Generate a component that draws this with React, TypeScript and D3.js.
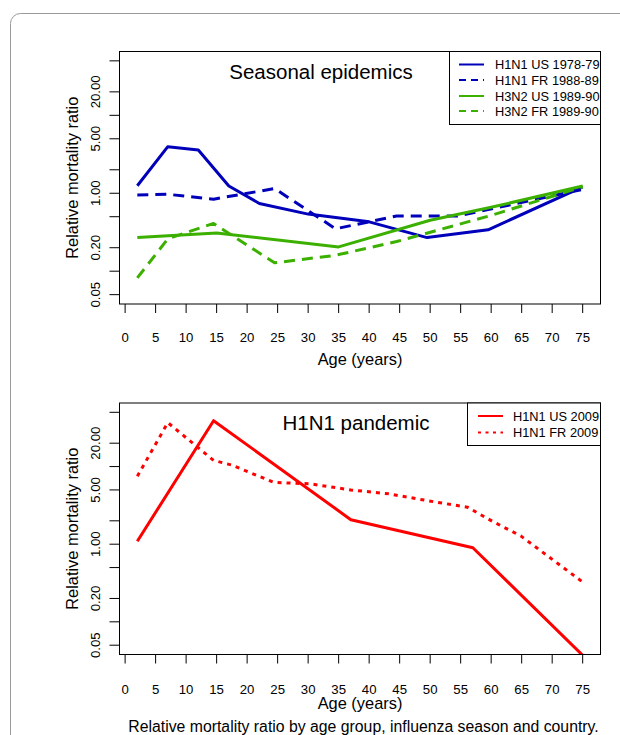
import React from 'react';
import * as d3 from 'd3';

// ---------- data ----------
const xTicks = d3.range(0, 80, 5);
const yTicks = [0.05, 0.1, 0.2, 0.5, 1, 2, 5, 10, 20, 50];
const yTickLabels = ['0.05', '', '0.20', '', '1.00', '', '5.00', '', '20.00', ''];

const h1n1Us7879Age = [2, 7, 12, 17, 22, 30, 40, 49.5, 59.5, 75];
const h1n1Us7879Val = [1.25, 3.96, 3.59, 1.24, 0.74, 0.54, 0.43, 0.27, 0.34, 1.21];

const h1n1Fr8889Age = [2, 7, 14.5, 24.5, 34.5, 44.5, 54.5, 75];
const h1n1Fr8889Val = [0.95, 0.97, 0.84, 1.15, 0.35, 0.51, 0.51, 1.12];

const h3n2Us8990Age = [2, 15, 35, 50, 60, 75];
const h3n2Us8990Val = [0.27, 0.31, 0.205, 0.45, 0.66, 1.24];

const h3n2Fr8990Age = [2, 7, 14.5, 24.5, 34.5, 44.5, 60, 75];
const h3n2Fr8990Val = [0.082, 0.26, 0.41, 0.128, 0.16, 0.24, 0.52, 1.21];

const h1n1Us2009Age = [2, 14.5, 37, 57, 75];
const h1n1Us2009Val = [1.09, 39, 2.07, 0.9, 0.037];

const h1n1Fr2009Age = [2, 7, 14.5, 17.4, 24.4, 30.3, 37, 43.2, 50.8, 56.1, 60.2, 64.9, 75];
const h1n1Fr2009Val = [7.5, 36.8, 12, 10.5, 6.25, 6.0, 5.0, 4.45, 3.5, 3.0, 1.97, 1.27, 0.325];

const seasonalNames = ['H1N1 US 1978-79', 'H1N1 FR 1988-89', 'H3N2 US 1989-90', 'H3N2 FR 1989-90'];
const pandemicNames = ['H1N1 US 2009', 'H1N1 FR 2009'];

const BLUE = '#0000bb';
const GREEN = '#3cb000';
const RED = '#ff0000';
const FONT = '"Liberation Sans", Arial, Helvetica, sans-serif';

type Series = { age: number[]; val: number[]; color: string; dash: string; legendDash: string };

const x = d3.scaleLinear().domain([2 - 73 * 0.04, 75 + 73 * 0.04]).range([119.5, 600.5]);

function Panel(props: {
  top: number;
  bottom: number;
  id: string;
  series: Series[];
  title: string;
  titleX: number;
  titleY: number;
  legend: { names: string[]; left: number; bottom: number; lineX0: number; lineX1: number; textX: number; rows: number[] };
  tickLabelY: number;
  axisTitleY: number;
}) {
  const { top, bottom, id, series, legend } = props;
  const y = d3.scaleLog().domain([0.05 / 1.318, 50 * 1.318]).range([bottom, top]);
  const line = d3
    .line<[number, number]>()
    .x((d) => x(d[0]))
    .y((d) => y(d[1]));
  const left = 119.5;
  const right = 600.5;
  return (
    <g>
      <defs>
        <clipPath id={id}>
          <rect x={left} y={top} width={right - left} height={bottom - top} />
        </clipPath>
      </defs>
      <g clipPath={`url(#${id})`}>
        {series.map((s, i) => (
          <path
            key={i}
            d={line(s.age.map((a, j) => [a, s.val[j]] as [number, number])) || ''}
            fill="none"
            stroke={s.color}
            strokeWidth={3}
            strokeDasharray={s.dash}
            strokeLinejoin="round"
          />
        ))}
      </g>
      <rect x={left} y={top} width={right - left} height={bottom - top} fill="none" stroke="#000" strokeWidth={1} />
      {xTicks.map((t) => (
        <g key={t}>
          <line x1={x(t)} x2={x(t)} y1={bottom} y2={bottom + 9} stroke="#000" />
          <text x={x(t)} y={props.tickLabelY} textAnchor="middle" fontSize={13.2} fontFamily={FONT}>
            {t}
          </text>
        </g>
      ))}
      {yTicks.map((t, i) => (
        <g key={t}>
          <line x1={left - 10} x2={left} y1={y(t)} y2={y(t)} stroke="#000" />
          {yTickLabels[i] && (
            <text
              transform={`translate(99.5,${y(t)}) rotate(-90)`}
              textAnchor="middle"
              fontSize={13.2}
              fontFamily={FONT}
            >
              {yTickLabels[i]}
            </text>
          )}
        </g>
      ))}
      <text x={(left + right) / 2} y={props.axisTitleY} textAnchor="middle" fontSize={16.4} fontFamily={FONT}>
        Age (years)
      </text>
      <text
        transform={`translate(78,${(top + bottom) / 2}) rotate(-90)`}
        textAnchor="middle"
        fontSize={16.4}
        fontFamily={FONT}
      >
        Relative mortality ratio
      </text>
      <text x={props.titleX} y={props.titleY} textAnchor="middle" fontSize={20.5} fontFamily={FONT}>
        {props.title}
      </text>
      <rect
        x={legend.left}
        y={top}
        width={right - legend.left}
        height={legend.bottom - top}
        fill="#fff"
        stroke="#000"
        strokeWidth={1}
      />
      {legend.names.map((n, i) => (
        <g key={n}>
          <line
            x1={legend.lineX0}
            x2={legend.lineX1}
            y1={legend.rows[i]}
            y2={legend.rows[i]}
            stroke={series[i].color}
            strokeWidth={2}
            strokeDasharray={series[i].legendDash}
          />
          <text x={legend.textX} y={legend.rows[i] + 4.5} fontSize={12.8} fontFamily={FONT}>
            {n}
          </text>
        </g>
      ))}
    </g>
  );
}

export default function App() {
  const seasonal: Series[] = [
    { age: h1n1Us7879Age, val: h1n1Us7879Val, color: BLUE, dash: '', legendDash: '' },
    { age: h1n1Fr8889Age, val: h1n1Fr8889Val, color: BLUE, dash: '11,7', legendDash: '7,5' },
    { age: h3n2Us8990Age, val: h3n2Us8990Val, color: GREEN, dash: '', legendDash: '' },
    { age: h3n2Fr8990Age, val: h3n2Fr8990Val, color: GREEN, dash: '11,7', legendDash: '7,5' },
  ];
  const pandemic: Series[] = [
    { age: h1n1Us2009Age, val: h1n1Us2009Val, color: RED, dash: '', legendDash: '' },
    { age: h1n1Fr2009Age, val: h1n1Fr2009Val, color: RED, dash: '4,5', legendDash: '3,4.5' },
  ];
  return (
    <svg width={620} height={735} style={{ position: 'absolute', left: 0, top: 0, background: '#fff' }}>
      <rect x={10.5} y={13.5} width={640} height={760} rx={10} ry={10} fill="#fff" stroke="#999" strokeWidth={1} />
      <Panel
        id="c1"
        top={51.5}
        bottom={304}
        series={seasonal}
        title="Seasonal epidemics"
        titleX={321}
        titleY={78.5}
        legend={{
          names: seasonalNames,
          left: 449.5,
          bottom: 124.5,
          lineX0: 459,
          lineX1: 484,
          textX: 495,
          rows: [64.5, 80, 96, 111],
        }}
        tickLabelY={341.5}
        axisTitleY={365}
      />
      <Panel
        id="c2"
        top={403}
        bottom={654.5}
        series={pandemic}
        title="H1N1 pandemic"
        titleX={356}
        titleY={429.5}
        legend={{
          names: pandemicNames,
          left: 467.5,
          bottom: 445.5,
          lineX0: 478,
          lineX1: 503,
          textX: 513,
          rows: [416, 432.5],
        }}
        tickLabelY={693.5}
        axisTitleY={708.5}
      />
      <text x={363.5} y={731.5} textAnchor="middle" fontSize={15.8} fontFamily={FONT}>
        Relative mortality ratio by age group, influenza season and country.
      </text>
    </svg>
  );
}
